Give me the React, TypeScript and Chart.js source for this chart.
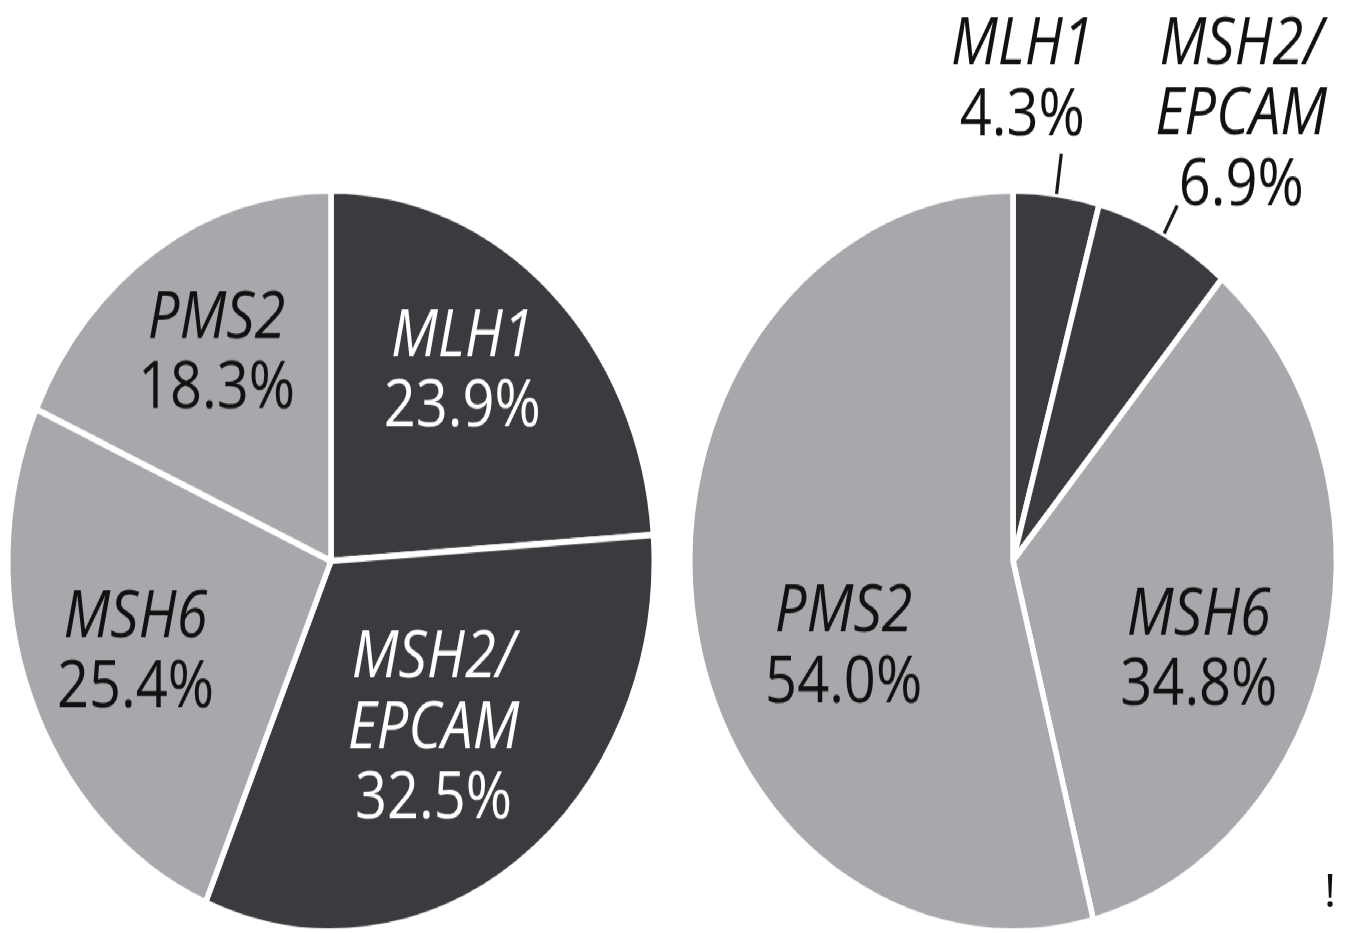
import React, { useEffect, useRef } from "react";
import { Chart, registerables } from "chart.js";

Chart.register(...registerables);

// ---- data ----
const genes = ["MLH1", "MSH2/\nEPCAM", "MSH6", "PMS2"];
const leftValues = [23.9, 32.5, 25.4, 18.3];
const rightValues = [4.3, 6.9, 34.8, 54.0];

// ---- style ----
const DARK = "#3a3b3e";
const LIGHT = "#a7a8ab";
const sliceColors = [DARK, DARK, LIGHT, LIGHT];
const textColors = ["#ffffff", "#ffffff", "#111111", "#111111"];
const FONT = '"Open Sans", "Noto Sans", sans-serif';
const FS = 56;
const LH = 61.5;
const CAP = 0.357; // half cap-height as fraction of font size
const SCALE_Y = 1.146;
const W = 1354;
const H = 820;

type Place = { f?: number; da?: number; out?: boolean; end?: number; dx?: number; dy?: number };

const leftPlace: Place[] = [
  { f: 0.66, da: -5 },
  { f: 0.545, da: 0 },
  { f: 0.65, da: 0 },
  { f: 0.67, da: 1 },
];
const rightPlace: Place[] = [
  { out: true, end: 1.11, dx: -39, dy: -36 },
  { out: true, end: 1.086, dx: 64, dy: -20.5 },
  { f: 0.62, da: 9 },
  { f: 0.57, da: -16 },
];

function labelPlugin(place: Place[], values: number[]) {
  return {
    id: "sliceLabels",
    afterDatasetsDraw(chart: any) {
      const ctx = chart.ctx as CanvasRenderingContext2D;
      const meta = chart.getDatasetMeta(0);
      meta.data.forEach((arc: any, i: number) => {
        const p = arc.getProps(["x", "y", "startAngle", "endAngle", "outerRadius"], true);
        const mid = (p.startAngle + p.endAngle) / 2;
        const pl = place[i];
        const lines = [
          ...genes[i].split("\n").map((t) => ({ t, it: true })),
          { t: values[i].toFixed(1) + "%", it: false },
        ];
        const n = lines.length;
        ctx.save();
        ctx.textAlign = "center";
        ctx.textBaseline = "alphabetic";
        if (pl.out) {
          const r0 = p.outerRadius;
          const r1 = p.outerRadius * (pl.end as number);
          const sx = p.x + Math.cos(mid) * r0;
          const sy = p.y + Math.sin(mid) * r0;
          const ex = p.x + Math.cos(mid) * r1;
          const ey = p.y + Math.sin(mid) * r1;
          ctx.strokeStyle = "#1a1a1a";
          ctx.lineWidth = 3.2;
          ctx.beginPath();
          ctx.moveTo(sx, sy);
          ctx.lineTo(ex, ey);
          ctx.stroke();
          const cx = ex + (pl.dx as number);
          const lastY = ey + (pl.dy as number);
          ctx.fillStyle = "#111111";
          lines.forEach((ln, k) => {
            ctx.font = (ln.it ? "italic " : "") + FS + "px " + FONT;
            const yc = lastY - (n - 1 - k) * LH;
            ctx.fillText(ln.t, cx, yc + CAP * FS);
          });
        } else {
          const a = mid + ((pl.da || 0) * Math.PI) / 180;
          const r = p.outerRadius * (pl.f as number);
          const cx = p.x + Math.cos(a) * r;
          const cy = p.y + Math.sin(a) * r;
          ctx.fillStyle = textColors[i];
          lines.forEach((ln, k) => {
            ctx.font = (ln.it ? "italic " : "") + FS + "px " + FONT;
            const yc = cy + (k - (n - 1) / 2) * LH;
            ctx.fillText(ln.t, cx, yc + CAP * FS);
          });
        }
        ctx.restore();
      });
    },
  };
}

function PieCanvas(props: { values: number[]; place: Place[]; padLeft: number }) {
  const ref = useRef<HTMLCanvasElement | null>(null);
  useEffect(() => {
    if (!ref.current) return;
    const size = 652;
    const top = 163.5;
    const chart = new Chart(ref.current, {
      type: "pie",
      data: {
        labels: genes.map((g) => g.replace("\n", "")),
        datasets: [
          {
            data: props.values,
            backgroundColor: sliceColors,
            borderColor: "#ffffff",
            borderWidth: 5.5,
          },
        ],
      },
      options: {
        responsive: false,
        animation: false,
        devicePixelRatio: 1,
        layout: {
          padding: {
            left: props.padLeft,
            right: W - props.padLeft - size,
            top: top,
            bottom: H - top - size,
          },
        },
        plugins: {
          legend: { display: false },
          tooltip: { enabled: false },
        },
        events: [],
      },
      plugins: [labelPlugin(props.place, props.values)],
    } as any);
    return () => chart.destroy();
  }, []);
  return (
    <canvas
      ref={ref}
      width={W}
      height={H}
      style={{ position: "absolute", left: 0, top: 0, display: "block" }}
    />
  );
}

export default function App() {
  useEffect(() => {
    document.body.style.margin = "0";
    document.body.style.overflow = "hidden";
  }, []);
  return (
    <div
      style={{
        position: "fixed",
        left: 0,
        top: 0,
        width: W,
        height: 933,
        overflow: "hidden",
        background: "#ffffff",
      }}
    >
      <div
        style={{
          position: "absolute",
          left: 0,
          top: 0,
          width: W,
          height: H,
          transform: `scaleY(${SCALE_Y})`,
          transformOrigin: "top left",
        }}
      >
        <PieCanvas values={leftValues} place={leftPlace} padLeft={5} />
        <PieCanvas values={rightValues} place={rightPlace} padLeft={687} />
      </div>
      <div
        style={{
          position: "absolute",
          left: 1319,
          top: 866,
          fontFamily: FONT,
          fontSize: 46,
          lineHeight: "46px",
          color: "#111",
          width: 22,
          textAlign: "center",
        }}
      >
        !
      </div>
    </div>
  );
}
